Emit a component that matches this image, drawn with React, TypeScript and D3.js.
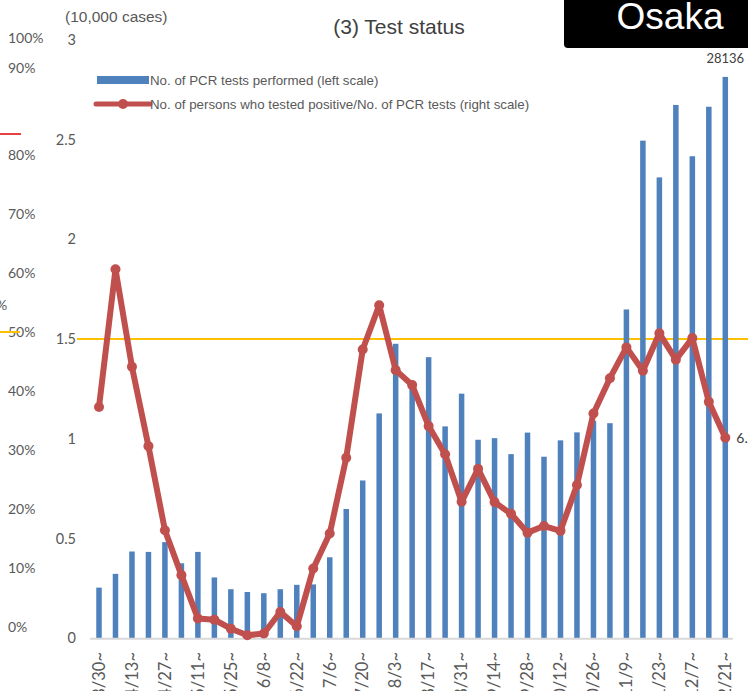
import React from 'react';
import * as d3 from 'd3';

const weeks = [
  '3/30', '4/6', '4/13', '4/20', '4/27', '5/4', '5/11', '5/18', '5/25', '6/1',
  '6/8', '6/15', '6/22', '6/29', '7/6', '7/13', '7/20', '7/27', '8/3', '8/10',
  '8/17', '8/24', '8/31', '9/7', '9/14', '9/21', '9/28', '10/5', '10/12', '10/19',
  '10/26', '11/2', '11/9', '11/16', '11/23', '11/30', '12/7', '12/14', '12/21',
];

// weekly PCR tests performed (cases)
const tests = [
  2540, 3230, 4350, 4330, 4820, 3760, 4330, 3050, 2460, 2320,
  2260, 2460, 2680, 2700, 4060, 6480, 7910, 11270, 14760, 12500,
  14090, 10620, 12260, 9950, 10030, 9230, 10310, 9100, 9920, 10320,
  10900, 10780, 16480, 24940, 23100, 26730, 24160, 26640, 28136,
];

// positive rate (%)
const positiveRate = [
  7.73, 12.33, 9.07, 6.42, 3.61, 2.11, 0.66, 0.62, 0.32, 0.1,
  0.16, 0.88, 0.4, 2.33, 3.5, 6.03, 9.65, 11.13, 8.96, 8.46,
  7.09, 6.15, 4.56, 5.66, 4.55, 4.16, 3.53, 3.75, 3.59, 5.12,
  7.51, 8.69, 9.72, 8.94, 10.19, 9.31, 10.03, 7.9, 6.7,
];

const leftTicks = [0, 0.5, 1, 1.5, 2, 2.5, 3];
const pctLabels = [
  { t: '100%', y: 38 }, { t: '90%', y: 68 }, { t: '80%', y: 155 }, { t: '70%', y: 214 },
  { t: '60%', y: 273 }, { t: '50%', y: 332 }, { t: '40%', y: 391 }, { t: '30%', y: 450 },
  { t: '20%', y: 509 }, { t: '10%', y: 568 }, { t: '0%', y: 627 },
];

const W = 748;
const H = 691;
const BLUE = '#4F81BD';
const RED = '#C0504D';
const GREY = '#595959';
const NUM_FONT = 'Lato, "Open Sans", sans-serif';
const TXT_FONT = '"Liberation Sans", Arial, sans-serif';

const App = () => {
  const x = d3.scalePoint<string>().domain(weeks).range([99, 725.3]);
  const y = d3.scaleLinear().domain([0, 3]).range([638.3, 39.7]);
  const yr = d3.scaleLinear().domain([0, 20]).range([638.3, 39.7]);
  const line = d3
    .line<number>()
    .x((d, i) => x(weeks[i]) as number)
    .y((d) => yr(d));
  const barW = 5.5;
  const last = weeks.length - 1;

  return (
    <svg width={W} height={H} style={{ position: 'absolute', left: 0, top: 0, background: '#fff' }}>
      {/* stray pieces from the neighbouring chart */}
      {pctLabels.map((p) => (
        <text key={p.t} x={8} y={p.y} dy="0.35em" fontSize={14} fill={GREY} fontFamily={NUM_FONT}>
          {p.t}
        </text>
      ))}
      <text x={-4} y={305} dy="0.35em" fontSize={14} fill={GREY} fontFamily={NUM_FONT}>%</text>
      <line x1={0} x2={21} y1={134} y2={134} stroke="#E00000" strokeWidth={1.5} />
      <line x1={0} x2={20} y1={332} y2={332} stroke="#FFC000" strokeWidth={2} />

      {/* title */}
      <text x={399} y={27} dy="0.35em" textAnchor="middle" fontSize={21} fill="#404040" fontFamily={TXT_FONT}>
        (3) Test status
      </text>
      <rect x={564} y={-6} width={190} height={54} rx={4} fill="#000" />
      <text x={670} y={29} textAnchor="middle" fontSize={37} fill="#fff" fontFamily={TXT_FONT}>
        Osaka
      </text>

      {/* left axis */}
      <text x={65} y={17} dy="0.35em" fontSize={15.5} fill={GREY} fontFamily={TXT_FONT}>(10,000 cases)</text>
      {leftTicks.map((t) => (
        <text key={t} x={76} y={y(t)} dy="0.35em" textAnchor="end" fontSize={14.5} fill={GREY} fontFamily={NUM_FONT}>
          {t}
        </text>
      ))}

      {/* threshold line */}
      <line x1={77} x2={W} y1={y(1.5)} y2={y(1.5)} stroke="#FFC000" strokeWidth={2} />

      {/* bars */}
      {tests.map((v, i) => (
        <rect
          key={weeks[i]}
          x={(x(weeks[i]) as number) - barW / 2}
          y={y(v / 10000)}
          width={barW}
          height={y(0) - y(v / 10000)}
          fill={BLUE}
        />
      ))}
      <line x1={90} x2={733} y1={y(0) + 0.5} y2={y(0) + 0.5} stroke="#D9D9D9" strokeWidth={2} />

      {/* positive rate line */}
      <path d={line(positiveRate) || ''} fill="none" stroke={RED} strokeWidth={6} strokeLinejoin="round" />
      {positiveRate.map((v, i) => (
        <circle key={weeks[i]} cx={x(weeks[i])} cy={yr(v)} r={5} fill={RED} />
      ))}

      {/* data labels */}
      <text x={x(weeks[last])} y={y(tests[last] / 10000) - 14} textAnchor="middle" fontSize={13} fill="#404040" fontFamily={NUM_FONT}>
        {tests[last]}
      </text>
      <text x={(x(weeks[last]) as number) + 11} y={yr(positiveRate[last])} dy="0.35em" fontSize={14} fill="#404040" fontFamily={NUM_FONT}>
        {positiveRate[last].toFixed(1)}%
      </text>

      {/* x labels */}
      {weeks.map((w, i) =>
        i % 2 === 0 ? (
          <text
            key={w}
            transform={`translate(${x(w)},652) rotate(-90)`}
            dy="0.35em"
            textAnchor="end"
            fontSize={16.5}
            fill={GREY}
            fontFamily={NUM_FONT}
          >
            {w}~
          </text>
        ) : null
      )}

      {/* legend */}
      <rect x={97} y={76} width={52} height={8} fill={BLUE} />
      <text x={150} y={80} dy="0.35em" fontSize={13.3} fill={GREY} fontFamily={TXT_FONT}>
        No. of PCR tests performed (left scale)
      </text>
      <line x1={96} x2={150} y1={104} y2={104} stroke={RED} strokeWidth={5} strokeLinecap="round" />
      <circle cx={123} cy={104} r={5} fill={RED} />
      <text x={150} y={104} dy="0.35em" fontSize={13.3} fill={GREY} fontFamily={TXT_FONT}>
        No. of persons who tested positive/No. of PCR tests (right scale)
      </text>
    </svg>
  );
};

export default App;
